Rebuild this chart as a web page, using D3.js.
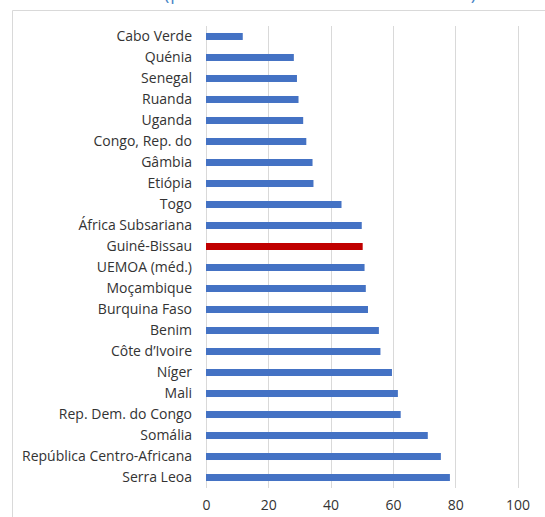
<!DOCTYPE html>
<html><head><meta charset="utf-8">
<script src="https://cdn.jsdelivr.net/npm/d3@7"></script>
<style>body{margin:0;background:#fff;} svg{display:block;}</style>
</head><body>
<script>
const categories = ["Cabo Verde","Quénia","Senegal","Ruanda","Uganda","Congo, Rep. do","Gâmbia","Etiópia","Togo","África Subsariana","Guiné-Bissau","UEMOA (méd.)","Moçambique","Burquina Faso","Benim","Côte d’Ivoire","Níger","Mali","Rep. Dem. do Congo","Somália","República Centro-Africana","Serra Leoa"];
const values = [11.8,28.2,29.2,29.7,31.2,32.2,34.2,34.5,43.5,50.0,50.3,50.9,51.3,52.0,55.5,56.0,59.7,61.6,62.5,71.2,75.4,78.3];
const highlight = ["Guiné-Bissau"];
const xTicks = [0,20,40,60,80,100];
const titleText = "(percentual da receita fiscal total)";

const W=545,H=517;
const svg=d3.select("body").append("svg").attr("width",W).attr("height",H);
// frame
svg.append("path").attr("d","M12.5,517 V10.5 H545").attr("fill","none").attr("stroke","#d9d9d9").attr("stroke-width",1);
svg.append("text").attr("x",164).attr("y",0).attr("font-family","Open Sans").attr("font-size",18)
  .attr("fill","#4a86c6").attr("textLength",312).text(titleText);

const x=d3.scaleLinear().domain([0,100]).range([206,517.5]);
const y=d3.scaleBand().domain(categories).range([26,488]).paddingInner(0.667).paddingOuter(0.333);

svg.append("g").selectAll("line").data(xTicks).join("line")
  .attr("x1",d=>Math.round(x(d))+0.5).attr("x2",d=>Math.round(x(d))+0.5)
  .attr("y1",26).attr("y2",488).attr("stroke","#d9d9d9").attr("stroke-width",1);

svg.append("g").selectAll("rect").data(categories).join("rect")
  .attr("x",x(0)).attr("y",d=>y(d)).attr("height",y.bandwidth())
  .attr("width",(d,i)=>x(values[i])-x(0))
  .attr("fill",d=>highlight.includes(d)?"#c00000":"#4472c4");

const yAxis=d3.axisLeft(y).tickSize(0).tickPadding(14);
const gy=svg.append("g").attr("transform",`translate(${x(0)},0)`).call(yAxis);
gy.select(".domain").remove();
gy.selectAll("text").attr("font-family","Open Sans").attr("font-size",14).attr("fill","#333");

const xAxis=d3.axisBottom(x).tickValues(xTicks).tickSize(0).tickPadding(12);
const gx=svg.append("g").attr("transform","translate(0,488)").call(xAxis);
gx.select(".domain").remove();
gx.selectAll("text").attr("font-family","Open Sans").attr("font-size",14).attr("fill","#333");
</script>
</body></html>
